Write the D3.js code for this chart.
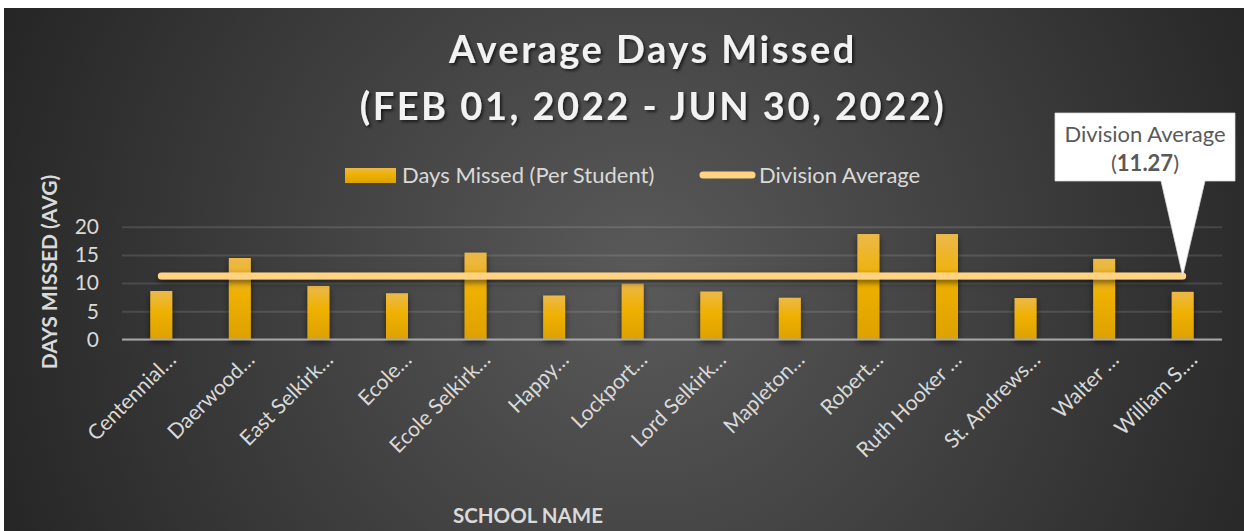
<!DOCTYPE html>
<html>
<head>
<meta charset="utf-8">
<style>
  html, body { margin: 0; padding: 0; background: #fff; }
  svg { display: block; }
  text { font-family: Lato, "Open Sans", sans-serif; }
</style>
</head>
<body>
<svg id="chart" width="1244" height="531"></svg>
<script src="https://d3js.org/d3.v7.min.js"></script>
<script>

var schools = ["Centennial…", "Daerwood…", "East Selkirk…", "Ecole…", "Ecole Selkirk…", "Happy…",
  "Lockport…", "Lord Selkirk…", "Mapleton…", "Robert…", "Ruth Hooker …", "St. Andrews…",
  "Walter …", "William S.…"];
var daysMissed = [8.6, 14.45, 9.5, 8.2, 15.4, 7.8, 9.9, 8.5, 7.4, 18.7, 18.7, 7.35, 14.3, 8.45];
var divisionAverage = 11.27;
var yTicks = [0, 5, 10, 15, 20];

var svg = d3.select("#chart");
var defs = svg.append("defs");

// background
var bg = defs.append("radialGradient").attr("id", "bg")
  .attr("gradientUnits", "userSpaceOnUse")
  .attr("cx", 640).attr("cy", 280).attr("r", 720);
bg.append("stop").attr("offset", "0").attr("stop-color", "#5a5a5a");
bg.append("stop").attr("offset", "1").attr("stop-color", "#232323");

var barGrad = defs.append("linearGradient").attr("id", "barGrad")
  .attr("x1", 0).attr("y1", 0).attr("x2", 0).attr("y2", 1);
barGrad.append("stop").attr("offset", "0").attr("stop-color", "#ecb94a");
barGrad.append("stop").attr("offset", "0.45").attr("stop-color", "#efb000");
barGrad.append("stop").attr("offset", "1").attr("stop-color", "#dda100");

var shadow = defs.append("filter").attr("id", "shadow")
  .attr("filterUnits", "userSpaceOnUse")
  .attr("x", 0).attr("y", 0).attr("width", 1244).attr("height", 531);
shadow.append("feDropShadow").attr("dx", 0).attr("dy", 3).attr("stdDeviation", 3)
  .attr("flood-color", "#000").attr("flood-opacity", 0.55);

var tshadow = defs.append("filter").attr("id", "tshadow");
tshadow.append("feDropShadow").attr("dx", 2).attr("dy", 2).attr("stdDeviation", 1.5)
  .attr("flood-color", "#000").attr("flood-opacity", 0.6);

svg.append("rect").attr("x", 4).attr("y", 8).attr("width", 1240).attr("height", 523)
  .attr("fill", "url(#bg)");

var x = d3.scaleBand().domain(schools).range([122, 1222])
  .paddingInner(0.72).paddingOuter(0.36);
var y = d3.scaleLinear().domain([0, 20]).range([339.5, 226.7]);

// title
var title = svg.append("g").attr("filter", "url(#tshadow)")
  .attr("fill", "#f2f2f2").attr("font-weight", "bold").attr("text-anchor", "middle")
  .style("letter-spacing", "2.5px");
title.append("text").attr("x", 653).attr("y", 63).attr("font-size", 38).text("Average Days Missed");
title.append("text").attr("x", 653).attr("y", 120).attr("font-size", 38).text("(FEB 01, 2022 - JUN 30, 2022)");

// grid + y axis
var yAxis = svg.append("g").attr("transform", "translate(122,0)")
  .call(d3.axisLeft(y).tickValues(yTicks).tickSize(-1100).tickPadding(23));
yAxis.select(".domain").remove();
yAxis.selectAll(".tick line").attr("stroke", "#ffffff").attr("stroke-opacity", 0.12).attr("stroke-width", 2);
yAxis.selectAll(".tick text").attr("fill", "#d9d9d9").attr("font-size", 21)
  .style("font-family", "Lato, sans-serif");

// bars
svg.append("g").attr("filter", "url(#shadow)")
  .selectAll("rect").data(daysMissed).join("rect")
  .attr("x", function(d, i) { return x(schools[i]); })
  .attr("y", function(d) { return y(d); })
  .attr("width", x.bandwidth())
  .attr("height", function(d) { return y(0) - y(d); })
  .attr("fill", "url(#barGrad)");

// zero line
svg.append("line").attr("x1", 122).attr("x2", 1222).attr("y1", y(0)).attr("y2", y(0))
  .attr("stroke", "#a6a6a6").attr("stroke-width", 2);

// division average line
var half = x.bandwidth() / 2;
svg.append("line")
  .attr("x1", x(schools[0]) + half).attr("x2", x(schools[schools.length - 1]) + half)
  .attr("y1", y(divisionAverage)).attr("y2", y(divisionAverage))
  .attr("stroke", "#ffd383").attr("stroke-width", 7).attr("stroke-linecap", "round")
  .attr("filter", "url(#shadow)");

// x labels
svg.append("g").selectAll("text").data(schools).join("text")
  .attr("transform", function(d) { return "translate(" + (x(d) + half + 16) + ",361) rotate(-45)"; })
  .attr("text-anchor", "end").attr("fill", "#d9d9d9").attr("font-size", 21)
  .text(function(d) { return d; });

// axis titles
svg.append("text").attr("transform", "translate(57,272) rotate(-90)")
  .attr("text-anchor", "middle").attr("fill", "#d9d9d9").attr("font-size", 21)
  .attr("font-weight", "bold").text("DAYS MISSED (AVG)");
svg.append("text").attr("x", 528).attr("y", 523)
  .attr("text-anchor", "middle").attr("fill", "#d9d9d9").attr("font-size", 20.5)
  .attr("font-weight", "bold").text("SCHOOL NAME");

// legend
svg.append("rect").attr("x", 345).attr("y", 168).attr("width", 51).attr("height", 15)
  .attr("fill", "url(#barGrad)");
svg.append("text").attr("x", 402).attr("y", 183).attr("fill", "#d9d9d9").attr("font-size", 22)
  .text("Days Missed (Per Student)");
svg.append("line").attr("x1", 703).attr("x2", 752).attr("y1", 175).attr("y2", 175)
  .attr("stroke", "#ffd383").attr("stroke-width", 7).attr("stroke-linecap", "round");
svg.append("text").attr("x", 759).attr("y", 183).attr("fill", "#d9d9d9").attr("font-size", 22)
  .text("Division Average");

// callout
var tipX = x(schools[schools.length - 1]) + half, tipY = y(divisionAverage);
svg.append("path")
  .attr("d", "M1055,113 H1235 V181 H1205 L" + tipX + "," + tipY + " L1161,181 H1055 Z")
  .attr("fill", "#ffffff").attr("stroke", "#d9d9d9").attr("stroke-width", 0.75);
svg.append("text").attr("x", 1145).attr("y", 142).attr("text-anchor", "middle")
  .attr("fill", "#595959").attr("font-size", 22).text("Division Average");
var t2 = svg.append("text").attr("x", 1145).attr("y", 171).attr("text-anchor", "middle")
  .attr("fill", "#595959").attr("font-size", 22);
t2.append("tspan").text("(");
t2.append("tspan").attr("font-weight", "bold").text(divisionAverage.toFixed(2));
t2.append("tspan").text(")");

</script>
</body>
</html>
